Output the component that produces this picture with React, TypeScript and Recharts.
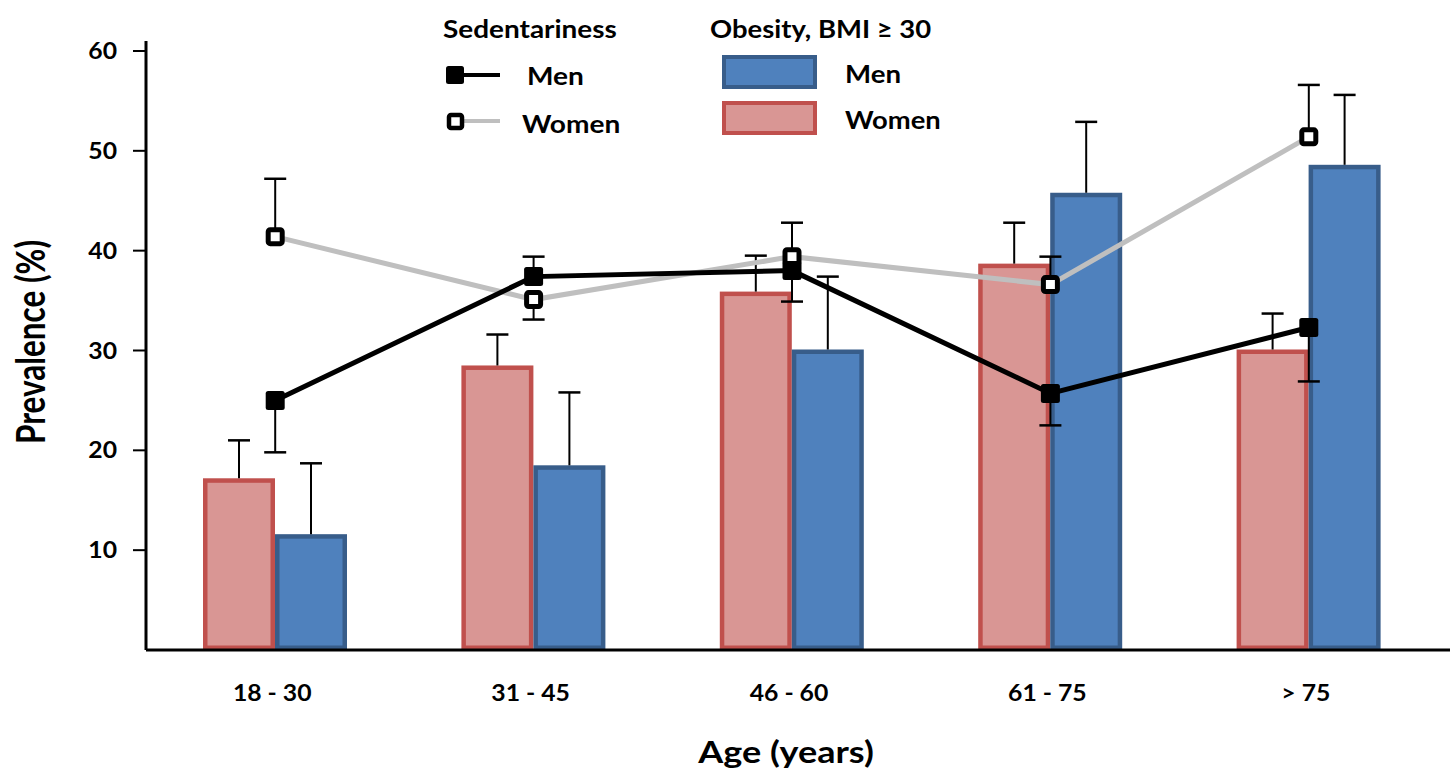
import React from 'react';
import { ComposedChart, Bar, Line, XAxis, YAxis, ErrorBar } from 'recharts';

const categories = ['18 - 30', '31 - 45', '46 - 60', '61 - 75', '> 75'];
const obesityWomen = [17.2, 28.5, 35.9, 38.7, 30.1];
const obesityWomenErr = [3.8, 3.1, 3.6, 4.1, 3.6];
const obesityMen = [11.6, 18.5, 30.1, 45.8, 48.6];
const obesityMenErr = [7.1, 7.3, 7.3, 7.1, 7.0];
const sedWomen = [41.4, 35.1, 39.4, 36.6, 51.4];
const sedWomenErrLow = [0, 2.0, 0, 0, 0];
const sedWomenErrHigh = [5.8, 0, 3.4, 2.8, 5.2];
const sedMen = [25.0, 37.4, 38.0, 25.7, 32.3];
const sedMenErrLow = [5.2, 0, 3.1, 3.2, 5.4];
const sedMenErrHigh = [0, 2.0, 0, 0, 0];
const yTicks = [10, 20, 30, 40, 50, 60];

const data = categories.map((age, i) => ({
  age,
  obW: obesityWomen[i],
  obWErr: obesityWomenErr[i],
  obM: obesityMen[i],
  obMErr: obesityMenErr[i],
  sedW: sedWomen[i],
  sedWErr: [sedWomenErrLow[i], sedWomenErrHigh[i]],
  sedWCap: sedWomen[i] + sedWomenErrHigh[i] - sedWomenErrLow[i],
  sedM: sedMen[i],
  sedMErr: [sedMenErrLow[i], sedMenErrHigh[i]],
  sedMCap: sedMen[i] + sedMenErrHigh[i] - sedMenErrLow[i],
}));

const FONT = 'Lato, "Open Sans", "DejaVu Sans", sans-serif';

function makeBarShape(valueKey: string, errKey: string, fill: string, stroke: string) {
  return (props: any) => {
    const { x, y, width, height, payload } = props;
    const sw = 4.5;
    const v = payload[valueKey];
    const ppu = v ? height / v : 0;
    const errPx = payload[errKey] * ppu;
    const cx = x + width / 2;
    return (
      <g>
        <rect
          x={x + sw / 2}
          y={y + sw / 2}
          width={width - sw}
          height={height - sw}
          fill={fill}
          stroke={stroke}
          strokeWidth={sw}
        />
        <line x1={cx} x2={cx} y1={y} y2={y - errPx} stroke="#000" strokeWidth={2} />
        <line x1={cx - 11} x2={cx + 11} y1={y - errPx} y2={y - errPx} stroke="#000" strokeWidth={2.5} />
      </g>
    );
  };
}

const womenBarShape = makeBarShape('obW', 'obWErr', '#d99694', '#c0504d');
const menBarShape = makeBarShape('obM', 'obMErr', '#4f81bd', '#385d8a');

const MenDot = (props: any) => {
  const { cx, cy } = props;
  if (cx == null || cy == null) return null;
  return <rect x={cx - 9.5} y={cy - 9.5} width={19} height={19} rx={2.5} fill="#000" />;
};

const WomenDot = (props: any) => {
  const { cx, cy } = props;
  if (cx == null || cy == null) return null;
  return (
    <rect x={cx - 7} y={cy - 7} width={14} height={14} rx={2} fill="#fff" stroke="#000" strokeWidth={5} />
  );
};

const CapDot = (props: any) => {
  const { cx, cy } = props;
  if (cx == null || cy == null) return null;
  return <line x1={cx - 11} x2={cx + 11} y1={cy} y2={cy} stroke="#000" strokeWidth={2.5} />;
};

const XTick = (props: any) => {
  const { x, y, payload } = props;
  return (
    <g transform={`translate(${x - 3},${y})`}>
      <text
        transform="scale(1.1,1)"
        x={0}
        y={0}
        dy={16}
        textAnchor="middle"
        fontFamily={FONT}
        fontWeight={700}
        fontSize={22.5}
        fill="#000"
      >
        {payload.value}
      </text>
    </g>
  );
};

const YTick = (props: any) => {
  const { x, y, payload } = props;
  return (
    <g transform={`translate(${x + 1},${y})`}>
      <text
        transform="scale(1.1,1)"
        x={0}
        y={0}
        dy={8}
        textAnchor="end"
        fontFamily={FONT}
        fontWeight={700}
        fontSize={22.5}
        fill="#000"
      >
        {payload.value}
      </text>
    </g>
  );
};

const textStyle: React.CSSProperties = {
  position: 'absolute',
  fontFamily: FONT,
  fontWeight: 700,
  color: '#000',
  whiteSpace: 'nowrap',
  lineHeight: 1,
};

const legText = (left: number, top: number, size: number, sx: number): React.CSSProperties => ({
  ...textStyle,
  fontSize: size,
  left,
  top,
  transformOrigin: '0 50%',
  transform: `translateY(-50%) scaleX(${sx})`,
});

export default function App() {
  return (
    <div style={{ position: 'absolute', left: 0, top: 0, width: 1456, height: 775, background: '#fff' }}>
      <ComposedChart
        width={1456}
        height={775}
        data={data}
        margin={{ top: 41, right: 6, bottom: 65, left: 86 }}
        barGap={0}
        barCategoryGap={57}
      >
        <XAxis
          dataKey="age"
          tickLine={false}
          axisLine={{ stroke: '#000', strokeWidth: 3 }}
          tick={<XTick />}
          tickSize={0}
          tickMargin={35}
          height={60}
          padding={{ left: 0, right: 12 }}
          interval={0}
        />
        <YAxis
          type="number"
          domain={[0, 61]}
          ticks={yTicks}
          width={60}
          tickSize={13}
          tickMargin={17}
          axisLine={{ stroke: '#000', strokeWidth: 3 }}
          tickLine={{ stroke: '#000', strokeWidth: 2 }}
          tick={<YTick />}
        />
        <Bar dataKey="obW" shape={womenBarShape} isAnimationActive={false} />
        <Bar dataKey="obM" shape={menBarShape} isAnimationActive={false} />
        <Line
          type="linear"
          dataKey="sedWCap"
          stroke="none"
          dot={<CapDot />}
          activeDot={false}
          legendType="none"
          isAnimationActive={false}
        />
        <Line
          type="linear"
          dataKey="sedMCap"
          stroke="none"
          dot={<CapDot />}
          activeDot={false}
          legendType="none"
          isAnimationActive={false}
        />
        <Line
          type="linear"
          dataKey="sedW"
          stroke="#bfbfbf"
          strokeWidth={5}
          dot={<WomenDot />}
          activeDot={false}
          isAnimationActive={false}
        >
          <ErrorBar dataKey="sedWErr" direction="y" width={0} stroke="#000" strokeWidth={2} />
        </Line>
        <Line
          type="linear"
          dataKey="sedM"
          stroke="#000"
          strokeWidth={5}
          dot={<MenDot />}
          activeDot={false}
          isAnimationActive={false}
        >
          <ErrorBar dataKey="sedMErr" direction="y" width={0} stroke="#000" strokeWidth={2} />
        </Line>
      </ComposedChart>

      {/* Axis titles */}
      <div
        style={{
          ...textStyle,
          fontSize: 31.5,
          left: 31,
          top: 342,
          transform: 'translate(-50%, -50%) scaleX(1.25) rotate(-90deg)',
        }}
      >
        Prevalence (%)
      </div>
      <div
        style={{
          ...textStyle,
          fontSize: 30,
          left: 786,
          top: 751,
          transform: 'translate(-50%, -50%) scaleX(1.2)',
        }}
      >
        Age (years)
      </div>

      {/* Legend */}
      <div style={legText(443, 29, 24.5, 1.14)}>Sedentariness</div>
      <div style={legText(710, 29, 24.5, 1.12)}>Obesity, BMI ≥ 30</div>
      <svg style={{ position: 'absolute', left: 0, top: 0 }} width={1000} height={150}>
        <line x1={460} x2={500} y1={75} y2={75} stroke="#000" strokeWidth={4} />
        <rect x={446} y={66} width={18} height={18} rx={2.5} fill="#000" />
        <line x1={462} x2={500} y1={121} y2={121} stroke="#bfbfbf" strokeWidth={4} />
        <rect x={449} y={115} width={13} height={13} rx={2} fill="#fff" stroke="#000" strokeWidth={4.5} />
        <rect x={724} y={57} width={91} height={30} fill="#4f81bd" stroke="#385d8a" strokeWidth={4} />
        <rect x={724} y={103} width={91} height={30} fill="#d99694" stroke="#c0504d" strokeWidth={4} />
      </svg>
      <div style={legText(527, 76, 24, 1.17)}>Men</div>
      <div style={legText(522, 124, 24, 1.17)}>Women</div>
      <div style={legText(845, 74, 24, 1.15)}>Men</div>
      <div style={legText(845, 120, 24, 1.14)}>Women</div>
    </div>
  );
}
